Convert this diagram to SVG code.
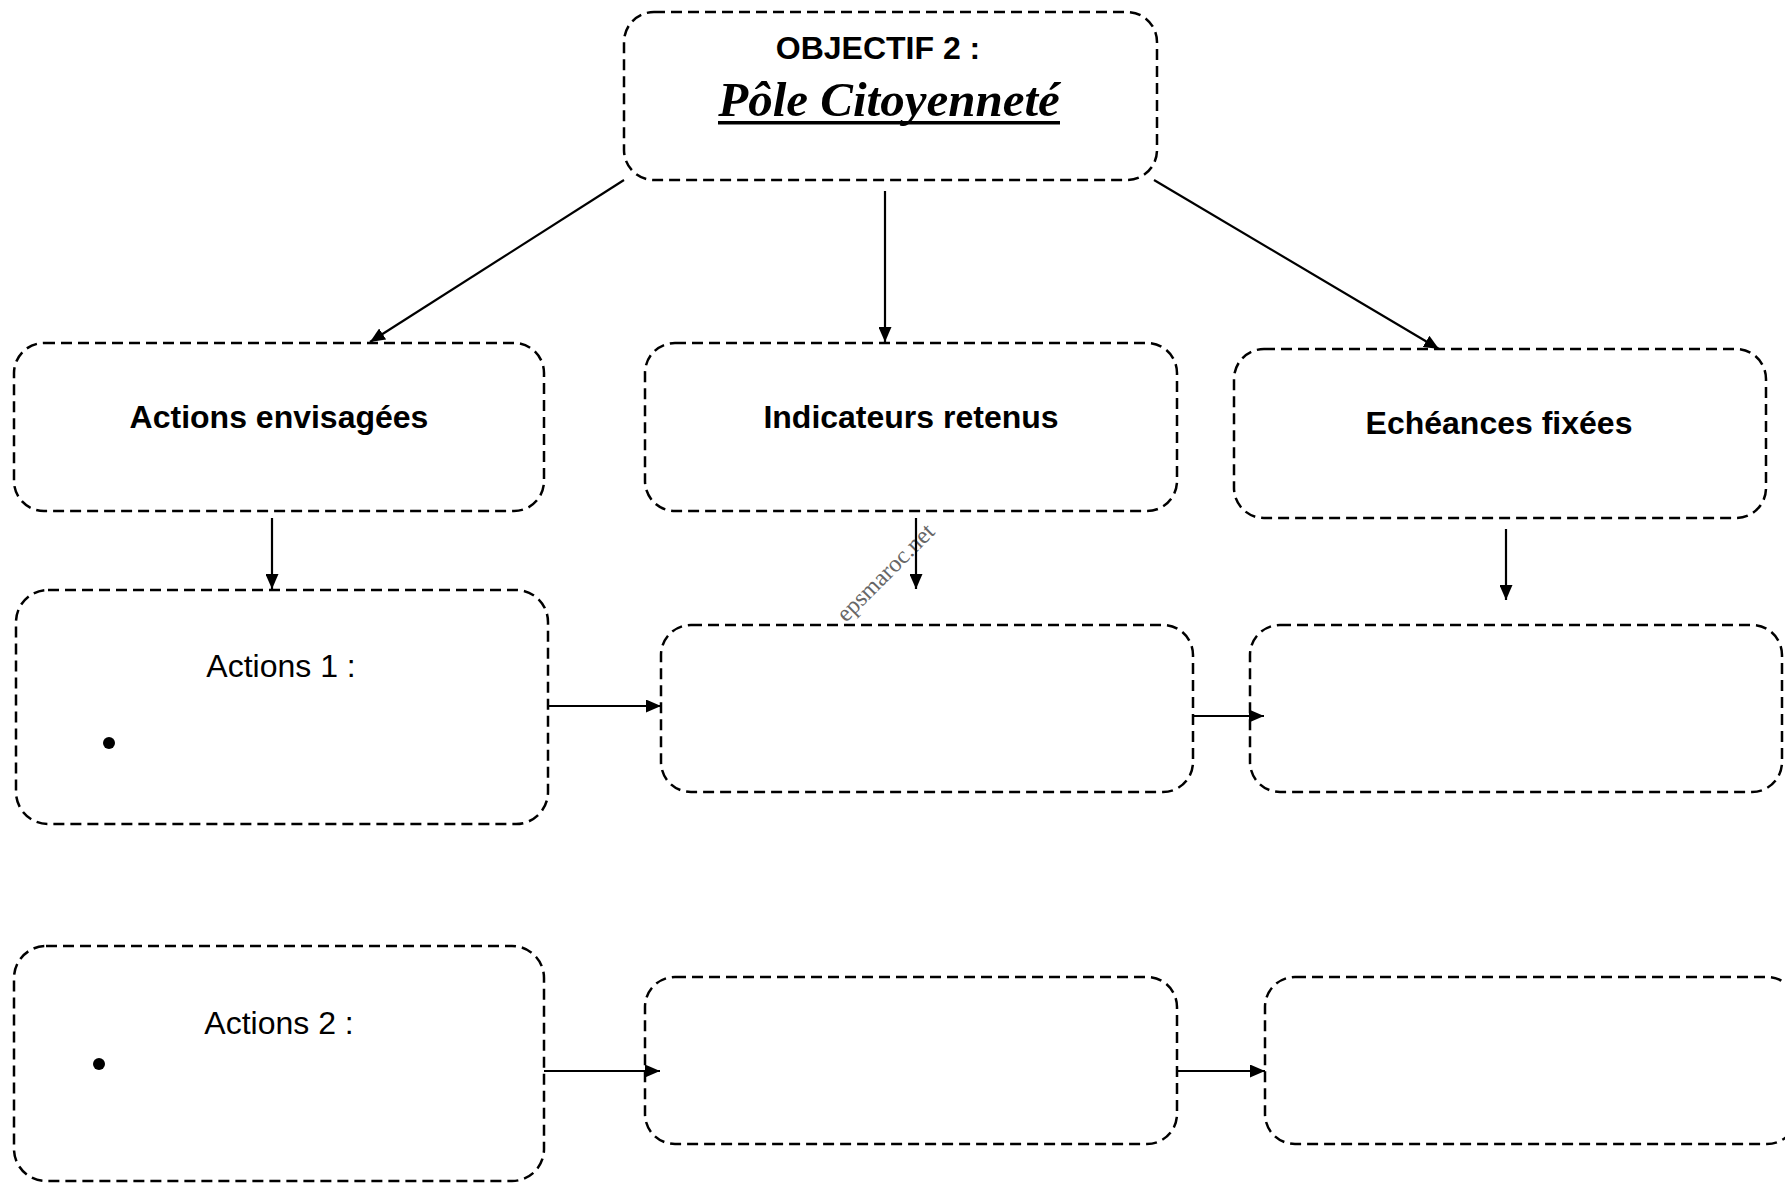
<svg xmlns="http://www.w3.org/2000/svg" width="1785" height="1183" viewBox="0 0 1785 1183">
<style>
.box{fill:#fff;stroke:#000;stroke-width:2.5;stroke-dasharray:11 6}
.hb{font-family:"Liberation Sans",Arial,sans-serif;font-weight:bold;font-size:32px;text-anchor:middle}
.hr{font-family:"Liberation Sans",Arial,sans-serif;font-size:32px;text-anchor:middle}
.con{stroke:#000;stroke-width:2.2;fill:none;marker-end:url(#ah)}
</style>
<defs>
<marker id="ah" viewBox="0 0 15 13" refX="15" refY="6.5" markerWidth="15" markerHeight="13" markerUnits="userSpaceOnUse" orient="auto">
<path d="M0,0 L15,6.5 L0,13 z" fill="#000"/>
</marker>
</defs>
<rect width="1785" height="1183" fill="#fff"/>
<g id="objectif">
<rect class="box" x="624" y="12" width="533" height="168" rx="30"/>
<text class="hb" x="878" y="59">OBJECTIF 2 :</text>
<text x="889" y="116" font-family="Liberation Serif,serif" font-weight="bold" font-style="italic" font-size="49" text-anchor="middle">Pôle Citoyenneté</text>
<rect x="718" y="121" width="342" height="3.5" fill="#000"/>
</g>
<g id="actions-envisagees">
<rect class="box" x="14" y="343" width="530" height="168" rx="30"/>
<text class="hb" x="279" y="428">Actions envisagées</text>
</g>
<g id="indicateurs-retenus">
<rect class="box" x="645" y="343" width="532" height="168" rx="30"/>
<text class="hb" x="911" y="428">Indicateurs retenus</text>
</g>
<g id="echeances-fixees">
<rect class="box" x="1234" y="349" width="532" height="169" rx="30"/>
<text class="hb" x="1499" y="434">Echéances fixées</text>
</g>
<g id="actions-1">
<rect class="box" x="16" y="590" width="532" height="234" rx="32"/>
<text class="hr" x="281" y="677">Actions 1 :</text>
<circle cx="109" cy="743" r="6"/>
</g>
<g id="indicateur-1">
<rect class="box" x="661" y="625" width="532" height="167" rx="30"/>
</g>
<g id="echeance-1">
<rect class="box" x="1250" y="625" width="532" height="167" rx="30"/>
</g>
<g id="actions-2">
<rect class="box" x="14" y="946" width="530" height="235" rx="32"/>
<text class="hr" x="279" y="1034">Actions 2 :</text>
<circle cx="99" cy="1064" r="6"/>
</g>
<g id="indicateur-2">
<rect class="box" x="645" y="977" width="532" height="167" rx="30"/>
</g>
<g id="echeance-2">
<rect class="box" x="1265" y="977" width="532" height="167" rx="30"/>
</g>
<text x="891" y="578" transform="rotate(-45 891 578)" font-family="Liberation Serif,serif" font-size="24" fill="#666" text-anchor="middle">epsmaroc.net</text>
<g id="connectors">
<line class="con" x1="624" y1="180" x2="370" y2="342"/>
<line class="con" x1="885" y1="191" x2="885" y2="342"/>
<line class="con" x1="1154" y1="180" x2="1439" y2="349"/>
<line class="con" x1="272" y1="518" x2="272" y2="589"/>
<line class="con" x1="916" y1="518" x2="916" y2="589"/>
<line class="con" x1="1506" y1="529" x2="1506" y2="600"/>
<line class="con" x1="548" y1="706" x2="661" y2="706"/>
<line class="con" x1="1193" y1="716" x2="1264" y2="716"/>
<line class="con" x1="544" y1="1071" x2="660" y2="1071"/>
<line class="con" x1="1177" y1="1071" x2="1265" y2="1071"/>
</g>
</svg>
